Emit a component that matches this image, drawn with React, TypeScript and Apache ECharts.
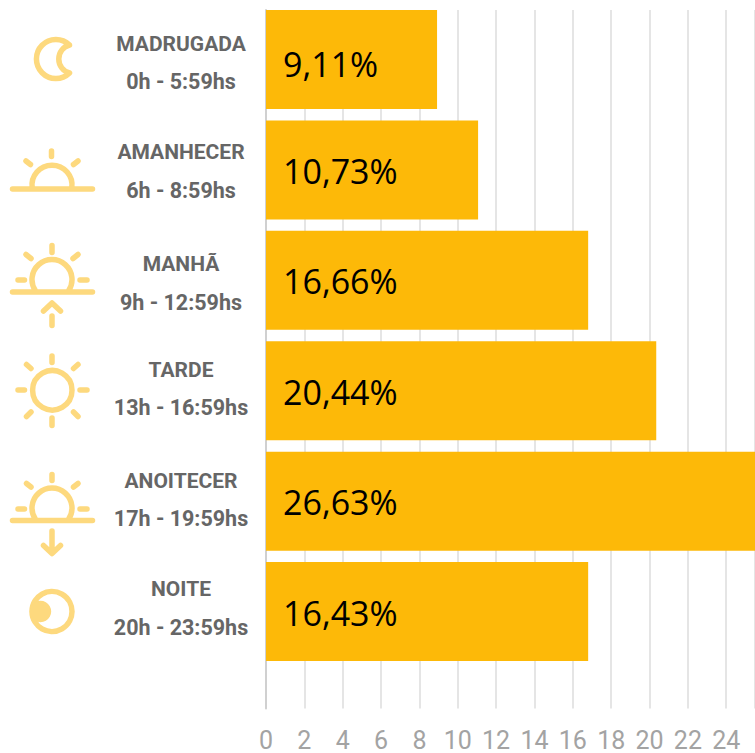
import React, { useEffect, useRef } from "react";
import * as echarts from "echarts";

const periods = ["MADRUGADA", "AMANHECER", "MANHÃ", "TARDE", "ANOITECER", "NOITE"];
const hours = ["0h - 5:59hs", "6h - 8:59hs", "9h - 12:59hs", "13h - 16:59hs", "17h - 19:59hs", "20h - 23:59hs"];
const barLengths = [8.92, 11.06, 16.8, 20.35, 26.63, 16.8];
const shownPercents = ["9,11%", "10,73%", "16,66%", "20,44%", "26,63%", "16,43%"];
const xTicks = [0, 2, 4, 6, 8, 10, 12, 14, 16, 18, 20, 22, 24];
const nameY = [44, 152, 264, 370, 481, 589];
const hourY = [81, 190, 302, 407, 518, 627];
const labelShiftY = [4, 1.5, 1, 1, 1, 1];

const ICON = "#FDD97E";

const iconPaths: string[] = [
  // moon
  "M69.5 45A19.5 19.5 0 1 0 69.5 73A14.5 14.5 0 0 1 69.5 45Z",
  // dawn
  "M12.5 189H92.5M32.2 188A20 20 0 1 1 71.8 188M51.5 151V156.5M26 161L30.5 164.5M78 161L73.5 164.5",
  // morning
  "M12.5 292H92.5M35.6 291A20 20 0 1 1 68.4 291M52 245.5V252.5M26 254.5L31 258.5M78 254.5L73 258.5M18 280H24.5M80 280H87M43.5 311L52 303L60.5 311M52 316V325.5",
  // afternoon
  "M52 356V362.5M26.5 364.5L31 368.5M78 364.5L73.5 368.5M18 390H24.5M80 390H87M26.5 416.5L31 412M78 416.5L73.5 412M52 418V425.5",
  // dusk
  "M12.5 520.5H92.5M35.6 519.5A20 20 0 1 1 68.4 519.5M52 474.5V480.5M26.5 483.5L31 487M78 483.5L73.5 487M18 509H24.5M80 509H87M52 531V548M43.5 545.5L52 553.5L60.5 545.5",
];

function App() {
  const ref = useRef<HTMLDivElement>(null);

  useEffect(() => {
    const chart = echarts.init(ref.current!, undefined, { renderer: "svg" });

    const stroke = { stroke: ICON, fill: "none", lineWidth: 5.5, lineCap: "round", lineJoin: "round" };
    iconPaths.forEach((d, i) => {
      echarts.graphic.registerShape("icon" + i, echarts.graphic.extendPath(d as any, {}) as any);
    });

    const graphic: any[] = [];
    iconPaths.forEach((_, i) => {
      graphic.push({ type: "icon" + i, x: 0, y: 0, style: { ...stroke } });
    });
    graphic.push({ type: "circle", shape: { cx: 52.3, cy: 390.3, r: 19.7 }, style: { ...stroke } });
    graphic.push({ type: "circle", shape: { cx: 52, cy: 611.5, r: 20 }, style: { ...stroke } });
    graphic.push({ type: "circle", shape: { cx: 40.5, cy: 611.5, r: 10.7 }, style: { fill: ICON } });

    periods.forEach((p, i) => {
      graphic.push({
        type: "text",
        x: 181,
        y: nameY[i],
        style: { text: p, fill: "#666666", font: "bold 21px Roboto", textAlign: "center", textVerticalAlign: "middle" },
      });
      graphic.push({
        type: "text",
        x: 181,
        y: hourY[i],
        style: { text: hours[i], fill: "#666666", font: "bold 21.5px Roboto", textAlign: "center", textVerticalAlign: "middle" },
      });
    });

    chart.setOption({
      animation: false,
      backgroundColor: "#ffffff",
      grid: [
        { left: 266, right: 0, top: 4.3, height: 662.5, containLabel: false },
        { left: 266, right: 0, top: 10, height: 700, containLabel: false },
      ],
      xAxis: [
        { type: "value", gridIndex: 0, min: 0, max: 25.5, show: false },
        {
          type: "value",
          gridIndex: 1,
          min: 0,
          max: 25.5,
          interval: 2,
          axisLine: { show: false },
          axisTick: { show: false },
          splitLine: { show: true, lineStyle: { color: "#dcdcdc", width: 1.5 } },
          axisLabel: {
            color: "#a3a3a3",
            fontFamily: "Roboto",
            fontSize: 25,
            lineHeight: 20,
            margin: 22,
            showMaxLabel: false,
            formatter: (v: number) => (xTicks.includes(v) ? String(v) : ""),
          },
        },
      ],
      yAxis: [
        {
          type: "category",
          gridIndex: 0,
          inverse: true,
          data: periods,
          axisLabel: { show: false },
          axisTick: { show: false },
          axisLine: { show: false },
        },
        {
          type: "value",
          gridIndex: 1,
          min: 0,
          max: 1,
          show: true,
          splitLine: { show: false },
          axisTick: { show: false },
          axisLabel: { show: false },
          axisLine: { show: true, lineStyle: { color: "#d0d0d0", width: 2 } },
        },
      ],
      series: [
        {
          type: "bar",
          xAxisIndex: 0,
          yAxisIndex: 0,
          data: barLengths.map((value, i) => ({ value, label: { offset: [0, labelShiftY[i]] } })),
          barWidth: 99,
          clip: true,
          itemStyle: { color: "#FDB908" },
          label: {
            show: true,
            position: "insideLeft",
            distance: 17,
            color: "#000000",
            fontFamily: "Open Sans",
            fontSize: 34,
            formatter: (p: any) => shownPercents[p.dataIndex],
          },
        },
      ],
      graphic,
    });

    return () => chart.dispose();
  }, []);

  return <div ref={ref} style={{ position: "fixed", left: 0, top: 0, width: 755, height: 753 }} />;
}

export default App;
